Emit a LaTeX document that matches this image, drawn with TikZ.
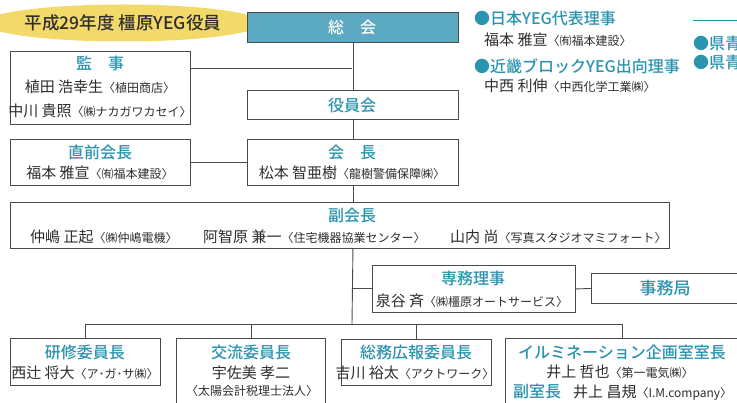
\documentclass[tikz,border=0pt]{standalone}
\usepackage{fontspec}
\setmainfont{Noto Sans CJK JP}[BoldFont={Noto Sans CJK JP Medium}]
\usetikzlibrary{shapes.geometric}
\definecolor{teal1}{HTML}{2A93AF}
\definecolor{tealfill}{HTML}{5CA9C2}
\definecolor{boxc}{HTML}{4A4A4A}
\definecolor{linec}{HTML}{4A4A4A}
\definecolor{txt}{HTML}{2E2E2E}
\definecolor{yel}{HTML}{F2D96A}
\newcommand\cmp[1]{{\fontsize{12}{12}\selectfont〈#1〉}}
\tikzset{
 box/.style={draw=boxc, line width=0.9pt, fill=white, inner sep=0, anchor=north west},
 conn/.style={draw=linec, line width=0.9pt},
 ttl/.style={text=teal1, font=\fontsize{16}{16}\selectfont\bfseries, inner sep=0},
 nm/.style={text=txt, font=\fontsize{15}{15}\selectfont, inner sep=0},
 side/.style={text=teal1, font=\fontsize{16}{16}\selectfont\bfseries, inner sep=0, anchor=west},
}
\begin{document}
\begin{tikzpicture}[x=1pt,y=-1pt]
\useasboundingbox (0,0) rectangle (737,403);
\clip (0,0) rectangle (737,403);
% header
\node[ellipse, fill=yel, minimum width=227, minimum height=37, inner sep=0, text=txt,
      font=\fontsize{17.5}{18}\selectfont\bfseries] (head) at (123,23) {平成29年度 橿原YEG役員};
% boxes
\node[box, fill=tealfill, minimum width=211, minimum height=30] (soukai) at (247,12) {};
\node[box, minimum width=180, minimum height=73] (kansa) at (10,51) {};
\node[box, minimum width=211, minimum height=29] (yakuin) at (247,90) {};
\node[box, minimum width=211, minimum height=46] (kaicho) at (247,139) {};
\node[box, minimum width=180, minimum height=46] (zenkai) at (10,139) {};
\node[box, minimum width=659, minimum height=46] (fuku) at (10,202) {};
\node[box, minimum width=203, minimum height=47] (senmu) at (372,265) {};
\node[box, minimum width=160, minimum height=30] (jimu) at (591,273) {};
\node[box, minimum width=150, minimum height=47] (kenshu) at (10,338) {};
\node[box, minimum width=149, minimum height=70] (koryu) at (176,338) {};
\node[box, minimum width=150, minimum height=46] (somu) at (341,339) {};
\node[box, minimum width=234, minimum height=75] (illumi) at (505,338) {};
% texts
\node[inner sep=0, text=white, font=\fontsize{16}{16}\selectfont\bfseries] (tsoukai) at (352,27) {総　会};
\node[ttl] (tkansa) at (100,63) {監　事};
\node[nm] (nkansa1) at (100,87) {植田 浩幸生\cmp{植田商店}};
\node[nm] (nkansa2) at (100,111) {中川 貴照\cmp{㈱ナカガワカセイ}};
\node[ttl] (tyakuin) at (352,105) {役員会};
\node[ttl] (tkaicho) at (352,152) {会　長};
\node[nm] (nkaicho) at (352,173) {松本 智亜樹\cmp{龍樹警備保障㈱}};
\node[ttl] (tzenkai) at (100,152) {直前会長};
\node[nm] (nzenkai) at (100,173) {福本 雅宣\cmp{㈲福本建設}};
\node[ttl] (tfuku) at (352,215) {副会長};
\node[nm, anchor=west] (nfuku1) at (30,237) {仲嶋 正起\cmp{㈱仲嶋電機}};
\node[nm, anchor=west] (nfuku2) at (203,237) {阿智原 兼一\cmp{住宅機器協業センター}};
\node[nm, anchor=west] (nfuku3) at (450,237) {山内 尚\cmp{写真スタジオマミフォート}};
\node[ttl] (tsenmu) at (473,278) {専務理事};
\node[nm] (nsenmu) at (472,301) {泉谷 斉\cmp{㈱橿原オートサービス}};
\node[ttl, font=\fontsize{17}{17}\selectfont\bfseries] (tjimu) at (665,288) {事務局};
\node[ttl] (tkenshu) at (85,352) {研修委員長};
\node[nm] (nkenshu) at (85,373) {西辻 将大\cmp{ア･ガ･サ㈱}};
\node[ttl] (tkoryu) at (251,352) {交流委員長};
\node[nm] (nkoryu1) at (251,373) {宇佐美 孝二};
\node[nm] (nkoryu2) at (252,391) {\cmp{太陽会計税理士法人}};
\node[ttl] (tsomu) at (416,352) {総務広報委員長};
\node[nm] (nsomu) at (415,373) {吉川 裕太\cmp{アクトワーク}};
\node[ttl] (tillumi) at (622,352) {イルミネーション企画室室長};
\node[nm] (nillumi1) at (620,372) {井上 哲也\cmp{第一電気㈱}};
\node[nm, anchor=west] (nillumi2) at (513,392) {{\color{teal1}\bfseries\fontsize{16}{16}\selectfont 副室長}\hspace{12pt}井上 昌規\cmp{I.M.company}};
% side notes
\node[side] (s1) at (474,18) {●日本YEG代表理事};
\node[nm, anchor=west] (s1n) at (484,40) {福本 雅宣\cmp{㈲福本建設}};
\node[side] (s2) at (474,66) {●近畿ブロックYEG出向理事};
\node[nm, anchor=west] (s2n) at (484,86) {中西 利伸\cmp{中西化学工業㈱}};
\coordinate (rl1) at (693,20);
\coordinate (rl2) at (740,20);
\draw[draw=teal1, line width=0.9pt] (rl1) -- (rl2);
\node[side] (s3) at (693,43) {●県青};
\node[side] (s4) at (693,62) {●県青};
% connectors
\coordinate (kj) at (352,68);
\coordinate (busL) at (85,324);
\coordinate (busR) at (622,324);
\coordinate (trunk) at (352,324);
\draw[conn] (soukai.south) -- (yakuin.north);
\draw[conn] (kansa.east |- kj) -- (kj);
\draw[conn] (yakuin.south) -- (kaicho.north);
\draw[conn] (zenkai.east) -- (kaicho.west);
\draw[conn] (kaicho.south) -- (kaicho.south |- fuku.north);
\draw[conn] (kaicho.south |- fuku.south) -- (trunk);
\draw[conn] (trunk |- senmu.west) -- (senmu.west);
\draw[conn] (senmu.east) -- (jimu.west);
\draw[conn] (kenshu.north) |- (busR) -- (busR |- illumi.north);
\draw[conn] (koryu.north) -- (koryu.north |- busL);
\draw[conn] (somu.north) -- (somu.north |- busL);
\end{tikzpicture}
\end{document}
